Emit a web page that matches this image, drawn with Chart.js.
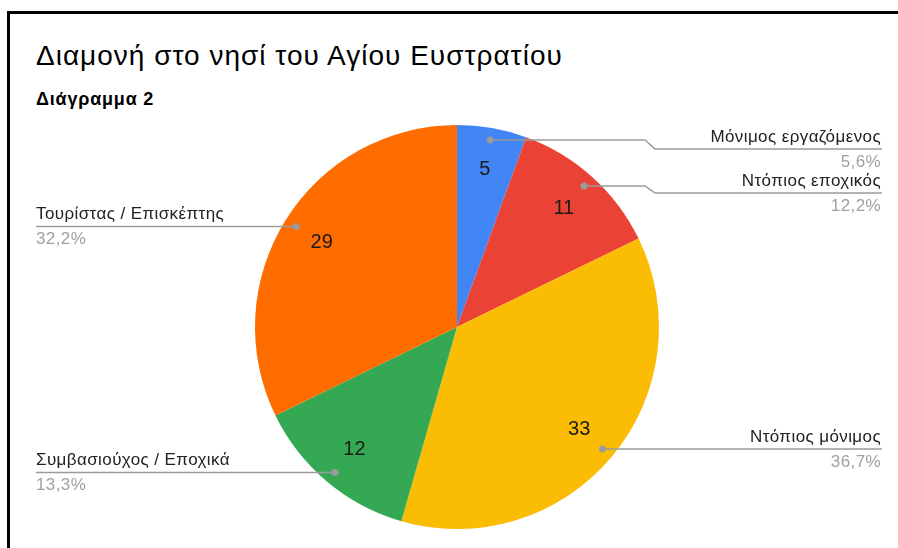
<!DOCTYPE html>
<html>
<head>
<meta charset="utf-8">
<script src="https://cdn.jsdelivr.net/npm/chart.js@4/dist/chart.umd.min.js"></script>
<style>
  html, body { margin: 0; padding: 0; background: #fff; }
  body { width: 898px; height: 548px; position: relative; overflow: hidden; font-family: Arial, "Liberation Sans", sans-serif; }
  #frame { position: absolute; left: 7px; top: 11px; width: 900px; height: 560px; border-top: 3px solid #000; border-left: 3px solid #000; box-sizing: border-box; }
  #title { position: absolute; left: 36px; top: 42px; font-size: 28px; line-height: 28px; letter-spacing: 1px; color: #000; white-space: nowrap; }
  #subtitle { position: absolute; left: 36px; top: 90px; font-size: 18px; line-height: 18px; letter-spacing: 0.8px; color: #000; font-weight: bold; white-space: nowrap; }
  #wrap { position: absolute; left: 0; top: 0; width: 898px; height: 548px; }
</style>
</head>
<body>
<div id="frame"></div>
<div id="title">Διαμονή στο νησί του Αγίου Ευστρατίου</div>
<div id="subtitle">Διάγραμμα 2</div>
<div id="wrap"><canvas id="c" width="898" height="548"></canvas></div>
<script>
const categories = ['Μόνιμος εργαζόμενος', 'Ντόπιος εποχικός', 'Ντόπιος μόνιμος', 'Συμβασιούχος / Εποχικά', 'Τουρίστας / Επισκέπτης'];
const values = [5, 11, 33, 12, 29];
const colors = ['#4285F4', '#EA4335', '#FBBC04', '#34A853', '#FF6D01'];

const FONT = 'Arial, "Liberation Sans", sans-serif';
const total = values.reduce((a, b) => a + b, 0);
const pctLabels = values.map(v => (v / total * 100).toFixed(1).replace('.', ',') + '%');

const calloutPlugin = {
  id: 'callouts',
  afterDatasetsDraw(chart) {
    const ctx = chart.ctx;
    const meta = chart.getDatasetMeta(0);
    const area = chart.chartArea;
    const items = meta.data.map((arc, i) => {
      const p = arc.getProps(['x', 'y', 'startAngle', 'endAngle', 'outerRadius'], true);
      const mid = (p.startAngle + p.endAngle) / 2;
      return {
        i, p, mid,
        vx: p.x + Math.cos(mid) * p.outerRadius * 0.79,
        vy: p.y + Math.sin(mid) * p.outerRadius * 0.79,
        dx: p.x + Math.cos(mid) * p.outerRadius * 0.94,
        dy: p.y + Math.sin(mid) * p.outerRadius * 0.94,
        right: Math.cos(mid) >= 0
      };
    });
    // value labels
    ctx.save();
    ctx.fillStyle = '#1a1a1a';
    ctx.font = '20px ' + FONT;
    ctx.textAlign = 'center';
    ctx.textBaseline = 'middle';
    items.forEach(it => ctx.fillText(String(values[it.i]), it.vx, it.vy));
    ctx.restore();

    // callout line positions
    const gap = 44;
    ['right', 'left'].forEach(side => {
      const list = items.filter(it => (side === 'right') === it.right).sort((a, b) => a.dy - b.dy);
      let prev = -Infinity;
      list.forEach(it => {
        const ly = Math.max(it.dy, prev + gap, area.top + 24);
        it.ly = ly;
        prev = ly;
      });
    });

    const rightX = 882, leftX = 36;
    ctx.save();
    items.forEach(it => {
      ctx.strokeStyle = '#9a9a9a';
      ctx.lineWidth = 1.5;
      ctx.beginPath();
      ctx.moveTo(it.dx, it.dy);
      if (it.right) {
        if (Math.abs(it.ly - it.dy) > 1) {
          ctx.lineTo(645, it.dy);
          ctx.lineTo(655, it.ly);
        }
        ctx.lineTo(rightX, it.ly);
      } else {
        if (Math.abs(it.ly - it.dy) > 1) {
          ctx.lineTo(270, it.dy);
          ctx.lineTo(260, it.ly);
        }
        ctx.lineTo(leftX, it.ly);
      }
      ctx.stroke();
      ctx.fillStyle = '#9a9a9a';
      ctx.beginPath();
      ctx.arc(it.dx, it.dy, 3.5, 0, Math.PI * 2);
      ctx.fill();

      ctx.textBaseline = 'alphabetic';
      ctx.font = '17px ' + FONT;
      if ('letterSpacing' in ctx) ctx.letterSpacing = '0.4px';
      let tx;
      if (it.right) {
        ctx.textAlign = 'right';
        tx = 881;
      } else {
        ctx.textAlign = 'left';
        tx = 36;
      }
      ctx.fillStyle = '#222222';
      ctx.fillText(categories[it.i], tx, it.ly - 7);
      ctx.fillStyle = '#a0a0a0';
      ctx.fillText(pctLabels[it.i], tx, it.ly + 18);
      if ('letterSpacing' in ctx) ctx.letterSpacing = '0px';
    });
    ctx.restore();
  }
};

new Chart(document.getElementById('c'), {
  type: 'pie',
  data: {
    labels: categories,
    datasets: [{
      data: values,
      backgroundColor: colors,
      borderWidth: 0,
      hoverOffset: 0,
      offset: 0
    }]
  },
  options: {
    responsive: false,
    animation: false,
    events: [],
    layout: { padding: { left: 255, top: 125, right: 239, bottom: 19 } },
    plugins: {
      legend: { display: false },
      tooltip: { enabled: false },
      title: { display: false }
    }
  },
  plugins: [calloutPlugin]
});
</script>
</body>
</html>
